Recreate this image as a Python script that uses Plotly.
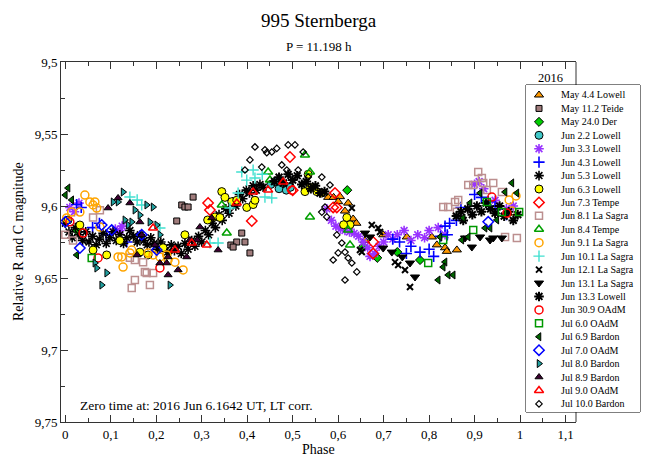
import plotly.graph_objects as go

W, H = 649, 457

# ---------------- data (phase, relative magnitude) ----------------
names = ["May 4.4 Lowell", "May 11.2 Teide", "May 24.0 Der", "Jun 2.2 Lowell",
         "Jun 3.3 Lowell", "Jun 4.3 Lowell", "Jun 5.3 Lowell", "Jun 6.3 Lowell",
         "Jun 7.3 Tempe", "Jun 8.1 La Sagra", "Jun 8.4 Tempe", "Jun 9.1 La Sagra",
         "Jun 10.1 La Sagra", "Jun 12.1 La Sagra", "Jun 13.1 La Sagra", "Jun 13.3 Lowell",
         "Jun 30.9 OAdM", "Jul 6.0 OAdM", "Jul 6.9 Bardon", "Jul 7.0 OAdM",
         "Jul 8.0 Bardon", "Jul 8.9 Bardon", "Jul 9.0 OAdM", "Jul 10.0 Bardon"]

may04_phase = [0.578, 0.590, 0.604, 0.615, 0.622, 0.633, 0.659, 0.699, 0.751, 0.806, 0.817, 0.835, 0.839, 0.861, 0.600, 0.640]
may04_mag = [9.594, 9.594, 9.5935, 9.6035, 9.598, 9.609, 9.624, 9.620, 9.6215, 9.6215, 9.627, 9.629, 9.6315, 9.6305, 9.597, 9.612]

may11_phase = [0.256, 0.263, 0.270, 0.281, 0.245, 0.364, 0.377, 0.369, 0.388, 0.395, 0.406]
may11_mag = [9.5993, 9.6007, 9.6007, 9.5938, 9.6104, 9.6271, 9.625, 9.6285, 9.6188, 9.625, 9.6326]

may24_phase = [0.620, 0.655, 0.686, 0.730, 0.780, 0.025]
may24_mag = [9.589, 9.628, 9.636, 9.632, 9.6375, 9.617]

jun02_phase = [0.452, 0.462, 0.470, 0.477, 0.486, 0.495]
jun02_mag = [9.585, 9.583, 9.588, 9.584, 9.589, 9.587]

jun03_phase = [0.010, 0.020, 0.030, 0.110, 0.120, 0.125, 0.575, 0.585, 0.595, 0.605, 0.615, 0.625,
               0.635, 0.645, 0.655, 0.665, 0.670, 0.680, 0.690, 0.700, 0.710, 0.720, 0.730, 0.745,
               0.760, 0.775, 0.790, 0.800, 0.820, 0.835, 0.900, 0.910, 0.920, 0.945, 0.970, 0.985]
jun03_mag = [9.601, 9.604, 9.598, 9.616, 9.617, 9.614, 9.602, 9.610, 9.614, 9.616, 9.617, 9.618,
             9.619, 9.621, 9.625, 9.629, 9.635, 9.633, 9.628, 9.625, 9.620, 9.623, 9.620, 9.617,
             9.624, 9.620, 9.622, 9.617, 9.615, 9.620, 9.585, 9.583, 9.588, 9.596, 9.602, 9.600]

jun04_phase = [0.025, 0.035, 0.060, 0.075, 0.135, 0.090, 0.720, 0.735, 0.750, 0.760, 0.780, 0.800,
               0.810, 0.825, 0.835, 0.840, 0.845, 0.860, 0.870, 0.900, 0.915, 0.945, 0.950, 0.930, 0.970]
jun04_mag = [9.599, 9.601, 9.615, 9.612, 9.625, 9.620, 9.623, 9.625, 9.633, 9.628, 9.632, 9.630,
             9.635, 9.621, 9.614, 9.620, 9.612, 9.610, 9.601, 9.592, 9.594, 9.600, 9.602, 9.597, 9.606]

jun05_phase = [0.000, 0.008, 0.015, 0.022, 0.030, 0.038, 0.045, 0.052, 0.060, 0.068, 0.075, 0.083,
               0.090, 0.098, 0.105, 0.112, 0.120, 0.128, 0.135, 0.142, 0.150, 0.158, 0.165, 0.173,
               0.180, 0.188, 0.195, 0.203, 0.210, 0.218, 0.225, 0.233, 0.240, 0.248, 0.255, 0.263,
               0.270, 0.278, 0.285, 0.293, 0.300, 0.308, 0.315, 0.323, 0.330, 0.338, 0.345, 0.353,
               0.360, 0.368, 0.375, 0.383, 0.390, 0.398, 0.405, 0.413, 0.420, 0.428, 0.435]
jun05_mag = [9.612, 9.618, 9.622, 9.615, 9.620, 9.624, 9.618, 9.625, 9.621, 9.627, 9.623, 9.619,
             9.626, 9.622, 9.618, 9.624, 9.620, 9.626, 9.622, 9.617, 9.621, 9.625, 9.620, 9.624,
             9.627, 9.622, 9.626, 9.630, 9.625, 9.629, 9.632, 9.627, 9.631, 9.628, 9.633, 9.626,
             9.630, 9.624, 9.628, 9.621, 9.625, 9.617, 9.620, 9.612, 9.615, 9.606, 9.610, 9.602,
             9.605, 9.597, 9.600, 9.592, 9.595, 9.589, 9.591, 9.586, 9.589, 9.585, 9.587]

jun06_phase = [0.006, 0.032, 0.061, 0.091, 0.120, 0.164, 0.182, 0.215, 0.263, 0.313, 0.329, 0.340,
               0.344, 0.351, 0.366, 0.377, 0.399, 0.413, 0.417, 0.527, 0.538, 0.553, 0.564, 0.619,
               0.626, 0.612, 0.534]
jun06_mag = [9.6097, 9.6132, 9.6306, 9.634, 9.624, 9.632, 9.634, 9.629, 9.620, 9.6097, 9.6076, 9.608,
             9.590, 9.594, 9.597, 9.596, 9.601, 9.599, 9.596, 9.590, 9.587, 9.590, 9.591, 9.608,
             9.613, 9.613, 9.578]

jun07_phase = [0.314, 0.318, 0.410, 0.494, 0.500, 0.593, 0.589, 0.597, 0.677, 0.677]
jun07_mag = [9.5979, 9.6028, 9.6104, 9.566, 9.589, 9.591, 9.601, 9.601, 9.625, 9.633]

jun08a_phase = [0.000, 0.017, 0.061, 0.076, 0.142, 0.153, 0.171, 0.175, 0.179, 0.193, 0.153, 0.186,
                0.146, 0.831, 0.842, 0.857, 0.864, 0.886, 0.897, 0.908, 0.916, 0.919, 0.927, 0.941,
                0.960, 0.967, 0.993, 0.861]
jun08a_mag = [9.620, 9.624, 9.608, 9.603, 9.636, 9.6375, 9.639, 9.6458, 9.6465, 9.6465, 9.6514, 9.6549,
              9.657, 9.6007, 9.6007, 9.5972, 9.5958, 9.5854, 9.5854, 9.5764, 9.5806, 9.584, 9.5889, 9.584,
              9.5903, 9.6215, 9.6222, 9.604]

jun08b_phase = [0.344, 0.355, 0.446, 0.450, 0.527, 0.538, 0.538, 0.622, 0.626]
jun08b_mag = [9.5993, 9.6188, 9.5764, 9.582, 9.5646, 9.5764, 9.6076, 9.6167, 9.6271]

jun09_phase = [0.003, 0.014, 0.032, 0.043, 0.054, 0.061, 0.065, 0.069, 0.076, 0.116, 0.124, 0.127,
               0.142, 0.146, 0.182, 0.193, 0.208, 0.223, 0.226, 0.259, 0.241, 0.976, 0.991, 0.982]
jun09_mag = [9.6083, 9.6042, 9.6042, 9.5924, 9.5972, 9.5993, 9.5972, 9.6014, 9.6146, 9.6354, 9.6354, 9.6424,
             9.6326, 9.6306, 9.6326, 9.634, 9.6354, 9.634, 9.6375, 9.6444, 9.639, 9.5958, 9.593, 9.6035]

jun10_phase = [0.142, 0.158, 0.168, 0.208, 0.318, 0.336, 0.362, 0.380, 0.388, 0.399, 0.413, 0.417,
               0.439, 0.454, 0.433]
jun10_mag = [9.5938, 9.5958, 9.5993, 9.6153, 9.6257, 9.6257, 9.6014, 9.591, 9.5764, 9.582, 9.575, 9.5806,
             9.5938, 9.5944, 9.578]

jun12_phase = [0.630, 0.674, 0.688, 0.692, 0.648, 0.652, 0.732, 0.747, 0.758, 0.725]
jun12_mag = [9.6014, 9.6132, 9.6153, 9.618, 9.6306, 9.632, 9.641, 9.6444, 9.6563, 9.639]

jun13a_phase = [0.659, 0.670, 0.699, 0.718, 0.741, 0.758, 0.769, 0.879, 0.894, 0.912, 0.934, 0.941, 0.960]
jun13a_mag = [9.6188, 9.6215, 9.6292, 9.632, 9.6354, 9.6396, 9.6493, 9.6222, 9.6285, 9.6215, 9.6236, 9.6222, 9.6222]

jun13b_phase = [0.460, 0.470, 0.480, 0.490, 0.500, 0.510, 0.520, 0.530, 0.540, 0.550, 0.560, 0.570,
                0.860, 0.870, 0.875, 0.885, 0.895, 0.905, 0.915, 0.925, 0.935, 0.945, 0.955, 0.965,
                0.975, 0.985, 0.995]
jun13b_mag = [9.583, 9.580, 9.584, 9.578, 9.582, 9.579, 9.585, 9.583, 9.588, 9.586, 9.591, 9.590,
              9.607, 9.604, 9.610, 9.602, 9.606, 9.600, 9.604, 9.598, 9.602, 9.605, 9.600, 9.607,
              9.604, 9.610, 9.606]

jun30_phase = [0.039, 0.072, 0.208, 0.498, 0.938, 0.971, 0.010]
jun30_mag = [9.6188, 9.6361, 9.643, 9.589, 9.5938, 9.6049, 9.611]

jul06_phase = [0.058, 0.798, 0.831, 0.897, 0.927, 0.960, 0.998]
jul06_mag = [9.6361, 9.6396, 9.6236, 9.6167, 9.5972, 9.6042, 9.6042]

jul069_phase = [0.006, 0.000, 0.014, 0.025, 0.824, 0.835, 0.831, 0.842, 0.820, 0.853, 0.872, 0.886,
                0.875, 0.890, 0.912, 0.923, 0.934, 0.949, 0.967, 0.982, 0.993]
jul069_mag = [9.5875, 9.5924, 9.5958, 9.634, 9.6215, 9.6389, 9.6424, 9.6479, 9.6514, 9.6479, 9.6236, 9.6215,
              9.6083, 9.5979, 9.591, 9.6153, 9.6153, 9.6097, 9.5903, 9.584, 9.591]

jul07_phase = [0.000, 0.032, 0.080, 0.102, 0.168, 0.201, 0.930]
jul07_mag = [9.611, 9.6292, 9.6132, 9.6167, 9.620, 9.6306, 9.611]

jul08_phase = [0.065, 0.069, 0.080, 0.091, 0.105, 0.116, 0.127, 0.131, 0.138, 0.146, 0.153, 0.164,
               0.179, 0.186, 0.193, 0.201, 0.208, 0.230]
jul08_mag = [9.6396, 9.6431, 9.6549, 9.6465, 9.5972, 9.5972, 9.5903, 9.6097, 9.6132, 9.6111, 9.6028, 9.6063,
             9.5993, 9.6111, 9.6007, 9.6132, 9.620, 9.6549]

jul089_phase = [0.094, 0.116, 0.142, 0.164, 0.168, 0.158, 0.197, 0.208, 0.223, 0.226, 0.226, 0.248,
                0.267, 0.290, 0.296, 0.322, 0.336, 0.274]
jul089_mag = [9.6014, 9.5944, 9.5979, 9.6111, 9.6201, 9.634, 9.6271, 9.6396, 9.6396, 9.6354, 9.6479, 9.6444,
              9.6354, 9.6236, 9.6146, 9.6083, 9.6306, 9.6236]

jul09_phase = [0.193, 0.241, 0.278, 0.311, 0.377, 0.413, 0.479, 0.446]
jul09_mag = [9.6153, 9.6306, 9.6257, 9.6271, 9.5979, 9.5903, 9.5833, 9.5889]

jul10_phase = [0.406, 0.417, 0.439, 0.443, 0.454, 0.465, 0.490, 0.505, 0.523, 0.476, 0.487, 0.512,
               0.534, 0.564, 0.582, 0.571, 0.564, 0.575, 0.597, 0.608, 0.600, 0.615, 0.589, 0.622,
               0.630, 0.641, 0.615, 0.432, 0.395]
jul10_mag = [9.568, 9.559, 9.561, 9.563, 9.5625, 9.560, 9.5576, 9.5576, 9.5625, 9.5715, 9.575, 9.575,
             9.5799, 9.5799, 9.5854, 9.6007, 9.6042, 9.6076, 9.6201, 9.6257, 9.6326, 9.632, 9.6375, 9.6361,
             9.6396, 9.6458, 9.6514, 9.573, 9.575]

phase_data = [may04_phase, may11_phase, may24_phase, jun02_phase, jun03_phase, jun04_phase,
              jun05_phase, jun06_phase, jun07_phase, jun08a_phase, jun08b_phase, jun09_phase,
              jun10_phase, jun12_phase, jun13a_phase, jun13b_phase, jun30_phase, jul06_phase,
              jul069_phase, jul07_phase, jul08_phase, jul089_phase, jul09_phase, jul10_phase]
mag_data = [may04_mag, may11_mag, may24_mag, jun02_mag, jun03_mag, jun04_mag,
            jun05_mag, jun06_mag, jun07_mag, jun08a_mag, jun08b_mag, jun09_mag,
            jun10_mag, jun12_mag, jun13a_mag, jun13b_mag, jun30_mag, jul06_mag,
            jul069_mag, jul07_mag, jul08_mag, jul089_mag, jul09_mag, jul10_mag]

# ---------------- styles ----------------
def filled(sym, col, size=7):
    return dict(symbol=sym, size=size, color=col, line=dict(color="black", width=1))

def hollow(sym, col, size=7, w=1.5):
    return dict(symbol=sym, size=size, color=col, line=dict(color=col, width=w))

styles = [
    filled("triangle-up", "#FF9900", 8),
    filled("square", "#A07C7C", 6),
    filled("diamond", "#00CC00", 7),
    filled("circle", "#40C8C8", 8),
    hollow("asterisk-open", "#9933FF", 8, 1.6),
    hollow("cross-thin-open", "#0000FF", 8, 1.6),
    hollow("asterisk-open", "black", 8, 1.6),
    filled("circle", "#FFFF00", 8),
    hollow("diamond-open", "#FF0000", 8),
    hollow("square-open", "#BC8F8F", 7),
    hollow("triangle-up-open", "#00A000", 8),
    hollow("circle-open", "#FFA500", 8),
    hollow("cross-thin-open", "#40E0D0", 8, 1.4),
    hollow("x-thin-open", "black", 6, 2),
    filled("triangle-down", "black", 8),
    hollow("asterisk-open", "black", 8, 2),
    hollow("circle-open", "#FF0000", 8),
    hollow("square-open", "#009900", 7),
    filled("triangle-left", "#006400", 7),
    hollow("diamond-open", "#0000FF", 8),
    filled("triangle-right", "#20A0A0", 7),
    filled("triangle-up", "#3C0030", 7),
    hollow("triangle-up-open", "#FF0000", 8),
    hollow("diamond-open", "black", 5, 1.2),
]

def px(x):
    return x / W

def py(y):
    return 1 - y / H

SERIF = "Liberation Serif"

fig = go.Figure()
for name, ph, mg, st in zip(names, phase_data, mag_data, styles):
    fig.add_trace(go.Scatter(x=ph, y=mg, mode="markers", name=name, marker=st,
                             xaxis="x", yaxis="y", showlegend=False))

# hand-built legend (markers in a small helper subplot)
box_l, box_r, box_t, box_b = 526, 640, 85, 412
item0, step = 10.0, 13.43
annotations = []
for i, (name, st) in enumerate(zip(names, styles)):
    yy = item0 + step * i
    fig.add_trace(go.Scatter(x=[13], y=[yy], mode="markers", marker=st,
                             xaxis="x2", yaxis="y2", showlegend=False, hoverinfo="skip"))
    annotations.append(dict(x=33, y=yy, xref="x2", yref="y2", text=name, showarrow=False,
                            xanchor="left", yanchor="middle",
                            font=dict(family=SERIF, size=10, color="black")))

annotations += [
    dict(x=px(318.5), y=py(20), xref="paper", yref="paper", text="995 Sternberga", showarrow=False,
         xanchor="center", yanchor="middle", font=dict(family=SERIF, size=19, color="black")),
    dict(x=px(318.5), y=py(46), xref="paper", yref="paper", text="P = 11.198 h", showarrow=False,
         xanchor="center", yanchor="middle", font=dict(family=SERIF, size=13, color="black")),
    dict(x=px(318.5), y=py(449), xref="paper", yref="paper", text="Phase", showarrow=False,
         xanchor="center", yanchor="middle", font=dict(family=SERIF, size=14, color="black")),
    dict(x=px(18), y=py(242), xref="paper", yref="paper", text="Relative R and C magnitude",
         showarrow=False, textangle=-90, xanchor="center", yanchor="middle",
         font=dict(family=SERIF, size=14, color="black")),
    dict(x=px(78), y=py(405), xref="paper", yref="paper",
         text="Zero time at: 2016 Jun 6.1642 UT, LT corr.", showarrow=False,
         xanchor="left", yanchor="middle", font=dict(family=SERIF, size=13.5, color="black")),
    dict(x=px(550), y=py(78), xref="paper", yref="paper", text="2016", showarrow=False,
         xanchor="center", yanchor="middle", font=dict(family=SERIF, size=12.5, color="black")),
]

shapes = [
    dict(type="line", xref="paper", yref="paper", x0=px(576), x1=px(576), y0=py(62), y1=py(422),
         line=dict(color="#333333", width=1), layer="below"),
    dict(type="rect", xref="paper", yref="paper", x0=px(box_l), x1=px(box_r), y0=py(box_b), y1=py(box_t),
         fillcolor="white", line=dict(color="black", width=1), layer="below"),
]

tickfont = dict(family=SERIF, size=13, color="black")
fig.update_layout(
    width=W, height=H, autosize=False,
    margin=dict(l=0, r=0, t=0, b=0),
    paper_bgcolor="white", plot_bgcolor="white",
    separators=",.",
    showlegend=False,
    template="none",
    annotations=annotations,
    shapes=shapes,
    xaxis=dict(domain=[px(61), px(576)], range=[-0.0095, 1.123], tick0=0, dtick=0.1,
               ticks="inside", ticklen=7, tickwidth=1, tickcolor="#333333",
               showline=True, linecolor="#333333", linewidth=1, mirror="ticks",
               showgrid=False, zeroline=False, tickfont=tickfont, automargin=False,
               minor=dict(dtick=0.05, tick0=0, ticks="inside", ticklen=4, tickcolor="#333333", showgrid=False)),
    yaxis=dict(domain=[py(422), py(62)], range=[9.75, 9.5], tick0=9.5, dtick=0.05,
               ticks="inside", ticklen=7, tickwidth=1, tickcolor="#333333",
               showline=True, linecolor="#333333", linewidth=1, mirror=False,
               showgrid=False, zeroline=False, tickfont=tickfont, automargin=False,
               minor=dict(dtick=0.025, tick0=9.5, ticks="inside", ticklen=4, tickcolor="#333333", showgrid=False)),
    xaxis2=dict(domain=[px(box_l), px(box_r)], range=[0, box_r - box_l], visible=False,
                fixedrange=True, anchor="y2"),
    yaxis2=dict(domain=[py(box_b), py(box_t)], range=[box_b - box_t, 0], visible=False,
                fixedrange=True, anchor="x2"),
)

fig.write_html("out.html", config={"displayModeBar": False},
               post_script="document.body.style.margin='0';document.body.style.overflow='hidden';")
